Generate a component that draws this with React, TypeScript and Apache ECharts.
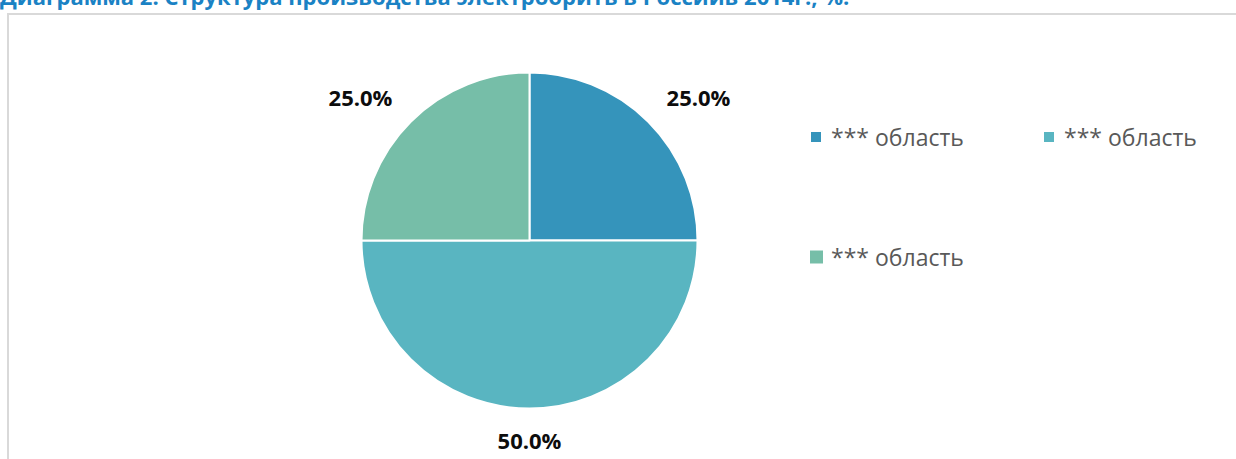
import React, { useEffect, useRef } from "react";
import * as echarts from "echarts";

const titleText = "Диаграмма 2. Структура производства электробрить в Россиив 2014г., %.";
const categories = ["*** область", "*** область", "*** область"];
const values = [25.0, 50.0, 25.0];
const colors = ["#3594bb", "#59b5c1", "#76bea8"];

export default function App() {
  const ref = useRef<HTMLDivElement>(null);
  useEffect(() => {
    if (!ref.current) return;
    const chart = echarts.init(ref.current, undefined, { renderer: "svg" });
    const total = values.reduce((a, b) => a + b, 0);
    const names = categories.map((c, i) => `${c}#${i}`);
    const strip = (n: string) => n.replace(/#\d+$/, "");
    const legendText = {
      color: "#595959",
      fontSize: 23,
      fontFamily: "Open Sans",
      lineHeight: 26,
    };
    chart.setOption({
      animation: false,
      backgroundColor: "#ffffff",
      graphic: [
        {
          type: "rect",
          shape: { x: 8, y: 14, width: 1240, height: 470 },
          style: { fill: "none", stroke: "#d9d9d9", lineWidth: 2 },
          silent: true,
        },
        {
          type: "text",
          x: 0,
          y: 7,
          style: {
            text: titleText,
            fill: "#1a82c4",
            font: "bold 22px 'Open Sans'",
            textVerticalAlign: "bottom",
          },
          silent: true,
        },
      ],
      legend: [
        {
          left: 809,
          top: 124,
          padding: 0,
          icon: "rect",
          itemWidth: 12,
          itemHeight: 12,
          data: [names[0]],
          formatter: strip,
          textStyle: { ...legendText, padding: [0, 0, 0, 4] },
          selectedMode: false,
        },
        {
          left: 1042,
          top: 124,
          padding: 0,
          icon: "rect",
          itemWidth: 12,
          itemHeight: 12,
          data: [names[1]],
          formatter: strip,
          textStyle: { ...legendText, padding: [0, 0, 0, 4] },
          selectedMode: false,
        },
        {
          left: 808,
          top: 244,
          padding: 0,
          icon: "rect",
          itemWidth: 15,
          itemHeight: 15,
          data: [names[2]],
          formatter: strip,
          textStyle: { ...legendText, padding: [0, 0, 0, 2] },
          selectedMode: false,
        },
      ],
      series: [
        {
          type: "pie",
          center: [529.5, 240.5],
          radius: 168,
          startAngle: 90,
          clockwise: true,
          data: names.map((n, i) => ({
            name: n,
            value: values[i],
            itemStyle: { color: colors[i] },
          })),
          itemStyle: { borderColor: "#ffffff", borderWidth: 2 },
          label: {
            show: true,
            position: "outside",
            formatter: (p: any) => ((p.value / total) * 100).toFixed(1) + "%",
            color: "#0d0d0d",
            fontSize: 22,
            fontWeight: "bold",
            fontFamily: "Open Sans",
          },
          labelLine: { show: false },
          labelLayout: (params: any) => {
            const r = params.rect;
            if (params.dataIndex === 0) {
              return { x: r.x + r.width, y: r.y + 25, align: "center", verticalAlign: "middle" };
            }
            if (params.dataIndex === 2) {
              return { x: r.x, y: r.y + 25, align: "center", verticalAlign: "middle" };
            }
            return {
              x: r.x + r.width / 2,
              y: r.y + r.height + 30,
              align: "center",
              verticalAlign: "middle",
            };
          },
          emphasis: { disabled: true },
        },
      ],
    });
    return () => chart.dispose();
  }, []);
  return (
    <div
      ref={ref}
      style={{ position: "fixed", left: 0, top: 0, width: 1236, height: 459 }}
    />
  );
}
